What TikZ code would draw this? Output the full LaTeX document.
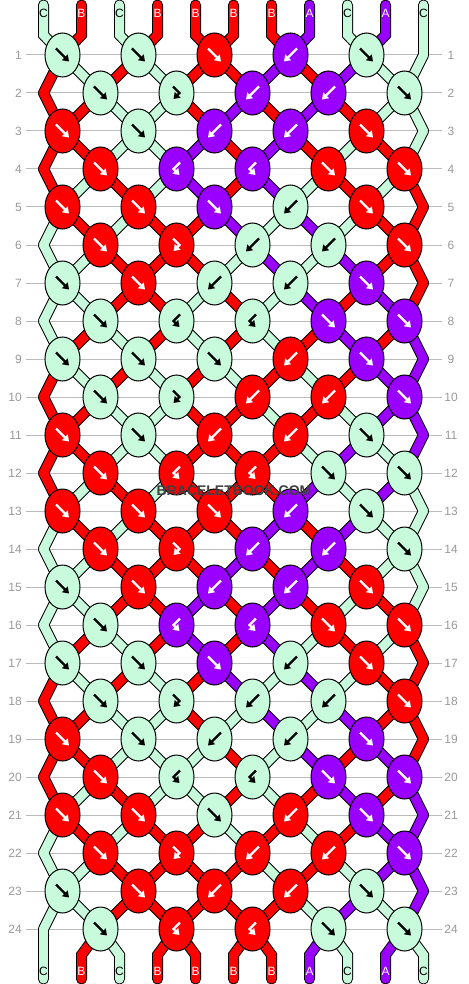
\documentclass[tikz,border=0pt]{standalone}
\usepackage{fontspec}
\setmainfont{Liberation Sans}
\usetikzlibrary{shapes.geometric,arrows.meta}

\definecolor{colC}{HTML}{C8FADC}
\definecolor{colB}{HTML}{FF0000}
\definecolor{colA}{HTML}{9900FF}
\colorlet{arrC}{black}
\colorlet{arrB}{white}
\colorlet{arrA}{white}
\definecolor{gridgray}{HTML}{BBBBBB}
\definecolor{numgray}{HTML}{999999}

\pgfdeclarelayer{back}
\pgfdeclarelayer{rim}
\pgfdeclarelayer{strand}
\pgfsetlayers{back,rim,strand,main}

\tikzset{
  pics/fw/.style={code={\draw[arr] (-6.5,-6.5) -- (6.5,6.5);}},
  pics/bw/.style={code={\draw[arr] (6.5,-6.5) -- (-6.5,6.5);}},
  pics/fwb/.style={code={\draw[arr] (-3.5,-6.5) -- (3,0) -- (-3,6);}},
  pics/bwf/.style={code={\draw[arr] (3.5,-6.5) -- (-3,0) -- (3,6);}}
}

\begin{document}
\begin{tikzpicture}[x=1pt,y=-1pt,
    knot/.style={ellipse,draw=black,line width=1pt,minimum width=35pt,minimum height=44pt,inner sep=0pt},
    arr/.style={line width=2.4pt,-{Triangle[length=6pt,width=8pt]}},
    rim/.style={line width=11pt,line cap=round,draw=black},
    strand/.style={line width=9pt,line cap=round,draw=col#1},
    tag/.style={inner sep=0pt,font=\fontsize{12}{12}\selectfont},
    rownum/.style={inner sep=0pt,text=numgray,font=\fontsize{12}{12}\selectfont},
    gridline/.style={draw=gridgray,line width=1pt}]
  \useasboundingbox (0,0) rectangle (468,984);

  \begin{pgfonlayer}{back}
  \foreach \r in {1,...,24}{
    \pgfmathsetmacro\y{55+38*(\r-1)}
    \draw[gridline] (26,\y) -- (442,\y);
    \node[rownum,anchor=east] (left\r) at (22,\y) {\r};
    \node[rownum] (right\r) at (451,\y) {\r};
  }
  \end{pgfonlayer}

  \foreach \r/\row in {
      1/{C/fw,C/fw,B/fw,A/bw,C/fw},   2/{C/fw,C/fwb,A/bw,A/bw,C/fw},
      3/{B/fw,C/fw,A/bw,A/bw,B/fw},   4/{B/fw,A/bwf,A/bwf,B/fw,B/fw},
      5/{B/fw,B/fw,A/fw,C/bw,B/fw},   6/{B/fw,B/fwb,C/bw,C/bw,B/fw},
      7/{C/fw,B/fw,C/bw,C/bw,A/fw},   8/{C/fw,C/bwf,C/bwf,A/fw,A/fw},
      9/{C/fw,C/fw,C/fw,B/bw,A/fw},  10/{C/fw,C/fwb,B/bw,B/bw,A/fw},
     11/{B/fw,C/fw,B/bw,B/bw,C/fw},  12/{B/fw,B/bwf,B/bwf,C/fw,C/fw},
     13/{B/fw,B/fw,B/fw,A/bw,C/fw},  14/{B/fw,B/fwb,A/bw,A/bw,C/fw},
     15/{C/fw,B/fw,A/bw,A/bw,B/fw},  16/{C/fw,A/bwf,A/bwf,B/fw,B/fw},
     17/{C/fw,C/fw,A/fw,C/bw,B/fw},  18/{C/fw,C/fwb,C/bw,C/bw,B/fw},
     19/{B/fw,C/fw,C/bw,C/bw,A/fw},  20/{B/fw,C/bwf,C/bwf,A/fw,A/fw},
     21/{B/fw,B/fw,C/fw,B/bw,A/fw},  22/{B/fw,B/fwb,B/bw,B/bw,A/fw},
     23/{C/fw,B/fw,B/bw,B/bw,C/fw},  24/{C/fw,B/bwf,B/bwf,C/fw,C/fw}}{
    \pgfmathsetmacro\y{55+38*(\r-1)}
    \pgfmathsetmacro\xo{62.5+38*(1-mod(\r,2))}
    \coordinate (k\r-0) at (43.5,\y);
    \coordinate (k\r-6) at (423.5,\y);
    \foreach \c/\t [count=\i] in \row {
      \node[knot,fill=col\c] (k\r-\i) at ({\xo+76*(\i-1)},\y) {};
      \pic[color=arr\c] at (k\r-\i) {\t};
    }
  }

  \foreach \s [count=\p] in {C,B,C,B,B,B,B,A,C,A,C}{
    \node[tag,text=arr\s] (top\p) at ({43.5+38*(\p-1)},13) {\s};
    \node[tag,text=arr\s] (bot\p) at ({43.5+38*(\p-1)},971) {\s};
  }

  \foreach \pass in {rim,strand}{
    \begin{pgfonlayer}{\pass}
    \foreach \r/\st in {
        1/{B,C,B,C,B,B,A,B,A,C,C},   2/{B,B,C,C,B,A,B,A,B,C,C},
        3/{B,B,C,C,A,B,A,B,C,B,C},   4/{B,C,B,C,A,B,A,C,B,C,B},
        5/{C,B,C,B,B,A,C,A,C,B,B},   6/{C,C,B,B,B,C,A,C,A,B,B},
        7/{C,C,B,B,C,B,C,A,B,A,B},   8/{C,B,C,B,C,B,C,B,A,B,A},
        9/{B,C,B,C,B,C,B,C,B,A,A},  10/{B,B,C,C,B,B,C,B,C,A,A},
       11/{B,B,C,C,B,B,B,C,A,C,A},  12/{B,C,B,C,B,B,B,A,C,A,C},
       13/{C,B,C,B,B,B,A,B,A,C,C},  14/{C,C,B,B,B,A,B,A,B,C,C},
       15/{C,C,B,B,A,B,A,B,C,B,C},  16/{C,B,C,B,A,B,A,C,B,C,B},
       17/{B,C,B,C,B,A,C,A,C,B,B},  18/{B,B,C,C,B,C,A,C,A,B,B},
       19/{B,B,C,C,C,B,C,A,B,A,B},  20/{B,C,B,C,C,B,C,B,A,B,A},
       21/{C,B,C,B,B,C,B,C,B,A,A},  22/{C,C,B,B,B,B,C,B,C,A,A},
       23/{C,C,B,B,B,B,B,C,A,C,A}}{
      \pgfmathtruncatemacro\rr{\r+1}
      \foreach \s [count=\p] in \st {
        \pgfmathtruncatemacro\i{int((\p+mod(\r,2))/2)}
        \pgfmathtruncatemacro\j{int((\p+mod(\rr,2))/2)}
        \draw[\pass=\s] (k\r-\i.center) -- (k\rr-\j.center);
      }
    }
    \foreach \s [count=\p] in {C,B,C,B,B,B,B,A,C,A,C}{
      \pgfmathtruncatemacro\i{int((\p+1)/2)}
      \pgfmathtruncatemacro\j{int(\p/2)}
      \draw[\pass=\s] (top\p.center) ++(0,-8) -- ++(0,30) -- (k1-\i.center);
      \draw[\pass=\s] (bot\p.center) ++(0,8) -- ++(0,-24) -- (k24-\j.center);
    }
    \end{pgfonlayer}
  }

  \node[font=\bfseries\fontsize{14}{14}\selectfont,text=black!75] (brand) at (234,491) {BRACELETBOOK.COM};
\end{tikzpicture}
\end{document}
